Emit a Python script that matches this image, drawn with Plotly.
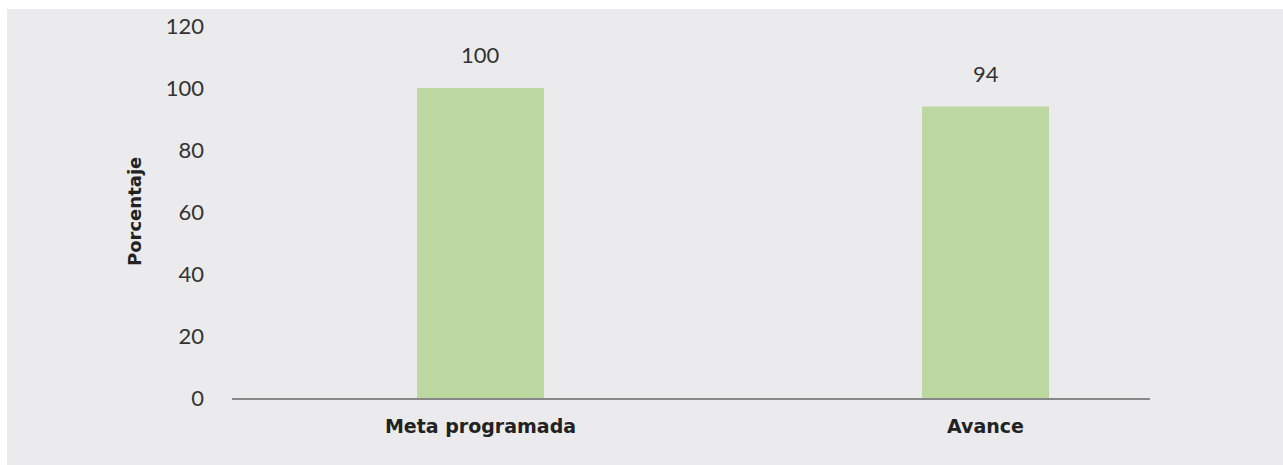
import plotly.graph_objects as go

categories = ["Meta programada", "Avance"]
values = [100, 94]
value_labels = ["100", "94"]
y_ticks = [0, 20, 40, 60, 80, 100, 120]

W, H = 1283, 465
L, T = 232, 26
plot_w, plot_h = 918, 372
R = W - L - plot_w
B = H - T - plot_h
BG = "#EBEBED"

fig = go.Figure()
fig.add_trace(go.Bar(
    x=[0, 1], y=values,
    marker=dict(color="#BCD7A0", line=dict(width=0)),
    width=0.2515,
    hoverinfo="skip",
))

for i, (v, lab) in enumerate(zip(values, value_labels)):
    fig.add_annotation(x=i, y=v, text=lab, showarrow=False,
                       yanchor="bottom", yshift=18,
                       font=dict(family="Lato", size=22, color="#333333"))

# white strips at top and left, outside the grey panel
fig.add_shape(type="rect", xref="paper", yref="paper", layer="below",
              x0=-L / plot_w - 0.01, x1=(W - L) / plot_w + 0.01,
              y0=1 + (T - 9) / plot_h, y1=1 + T / plot_h + 0.01,
              fillcolor="white", line=dict(width=0))
fig.add_shape(type="rect", xref="paper", yref="paper", layer="below",
              x0=-L / plot_w - 0.01, x1=(7 - L) / plot_w,
              y0=-B / plot_h - 0.01, y1=1 + T / plot_h + 0.01,
              fillcolor="white", line=dict(width=0))

fig.add_annotation(xref="paper", yref="paper", x=(134 - L) / plot_w, y=0.5,
                   text="<b>Porcentaje</b>", textangle=-90, showarrow=False,
                   xanchor="center", yanchor="middle",
                   font=dict(family="DejaVu Sans", size=18, color="#222222"))

fig.update_layout(
    width=W, height=H,
    margin=dict(l=L, r=R, t=T, b=B, autoexpand=False),
    paper_bgcolor=BG,
    plot_bgcolor="rgba(0,0,0,0)",
    showlegend=False,
    xaxis=dict(
        range=[-0.4921, 1.3257],
        tickvals=[0, 1],
        ticktext=["<b>" + c + "</b>" for c in categories],
        showgrid=False, zeroline=False,
        showline=True, linecolor="#888888", linewidth=2,
        ticks="", ticklabelstandoff=10,
        tickfont=dict(family="DejaVu Sans", size=19, color="#222222"),
        fixedrange=True,
    ),
    yaxis=dict(
        range=[0, 120],
        tickvals=y_ticks,
        showgrid=False, zeroline=False, showline=False,
        ticks="", ticklabelstandoff=27,
        tickfont=dict(family="Lato", size=22, color="#333333"),
        fixedrange=True,
    ),
)

fig.write_html(
    "out.html",
    config={"displayModeBar": False},
    post_script="document.body.style.margin='0';document.body.style.overflow='hidden';document.body.style.background='" + BG + "';",
)
